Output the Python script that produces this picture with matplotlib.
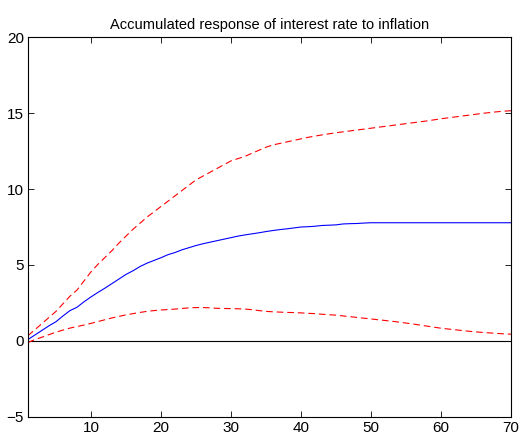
import numpy as np
import matplotlib
matplotlib.use("Agg")
from matplotlib import pyplot as plt

plt.rcParams['font.family'] = ['Liberation Sans', 'DejaVu Sans']

periods = np.arange(1, 71)

response = [0.10, 0.40, 0.70, 1.00, 1.27, 1.65, 2.00, 2.22, 2.58, 2.90,
            3.20, 3.48, 3.78, 4.08, 4.38, 4.62, 4.90, 5.12, 5.30, 5.48,
            5.68, 5.82, 6.00, 6.14, 6.28, 6.40, 6.50, 6.60, 6.70, 6.80,
            6.90, 6.98, 7.05, 7.12, 7.20, 7.27, 7.33, 7.38, 7.44, 7.50,
            7.52, 7.55, 7.60, 7.62, 7.64, 7.70, 7.72, 7.73, 7.76, 7.78,
            7.78, 7.78, 7.78, 7.78, 7.78, 7.78, 7.78, 7.78, 7.78, 7.78,
            7.78, 7.78, 7.78, 7.78, 7.78, 7.78, 7.78, 7.78, 7.78, 7.78]

upper = [0.35, 0.75, 1.15, 1.55, 1.95, 2.45, 2.95, 3.35, 3.95, 4.55,
         5.05, 5.50, 5.95, 6.45, 6.90, 7.35, 7.75, 8.15, 8.50, 8.85,
         9.20, 9.55, 9.90, 10.25, 10.60, 10.85, 11.10, 11.35, 11.60, 11.85,
         12.00, 12.15, 12.35, 12.55, 12.75, 12.90, 13.00, 13.10, 13.20, 13.30,
         13.40, 13.48, 13.56, 13.63, 13.70, 13.76, 13.82, 13.88, 13.94, 14.00,
         14.06, 14.12, 14.18, 14.24, 14.30, 14.36, 14.42, 14.48, 14.55, 14.62,
         14.68, 14.74, 14.80, 14.86, 14.92, 14.98, 15.03, 15.08, 15.12, 15.15]

lower = [-0.10, 0.10, 0.25, 0.42, 0.58, 0.72, 0.85, 0.95, 1.05, 1.16,
         1.28, 1.40, 1.52, 1.62, 1.72, 1.80, 1.88, 1.95, 2.00, 2.04,
         2.07, 2.10, 2.14, 2.18, 2.20, 2.20, 2.18, 2.15, 2.14, 2.13,
         2.12, 2.10, 2.06, 2.00, 1.95, 1.92, 1.90, 1.88, 1.87, 1.85,
         1.82, 1.80, 1.76, 1.73, 1.70, 1.65, 1.60, 1.55, 1.50, 1.45,
         1.40, 1.35, 1.30, 1.24, 1.18, 1.12, 1.05, 0.98, 0.91, 0.84,
         0.79, 0.74, 0.69, 0.64, 0.60, 0.56, 0.53, 0.50, 0.47, 0.45]

xticks = [10, 20, 30, 40, 50, 60, 70]
yticks = [-5, 0, 5, 10, 15, 20]

fig = plt.figure(figsize=(5.21, 4.38), dpi=100)
ax = fig.add_axes([28 / 521, 21 / 438, 483 / 521, 380 / 438])

ax.plot(periods, np.zeros(len(periods)), color='black', lw=0.8)
ax.plot(periods, upper, color='red', lw=0.8, ls=(0, (6, 3.5)))
ax.plot(periods, lower, color='red', lw=0.8, ls=(0, (6, 3.5)))
ax.plot(periods, response, color='blue', lw=0.8)

ax.set_xlim(1, 70)
ax.set_ylim(-5, 20)
ax.set_xticks(xticks)
ax.set_yticks(yticks)
ax.tick_params(direction='in', length=4, width=0.6, labelsize=11, pad=3,
               top=True, right=True)
for s in ax.spines.values():
    s.set_linewidth(0.8)

ax.set_title('Accumulated response of interest rate to inflation', fontsize=10.5, pad=6)

fig.savefig('out.png', dpi=100)
